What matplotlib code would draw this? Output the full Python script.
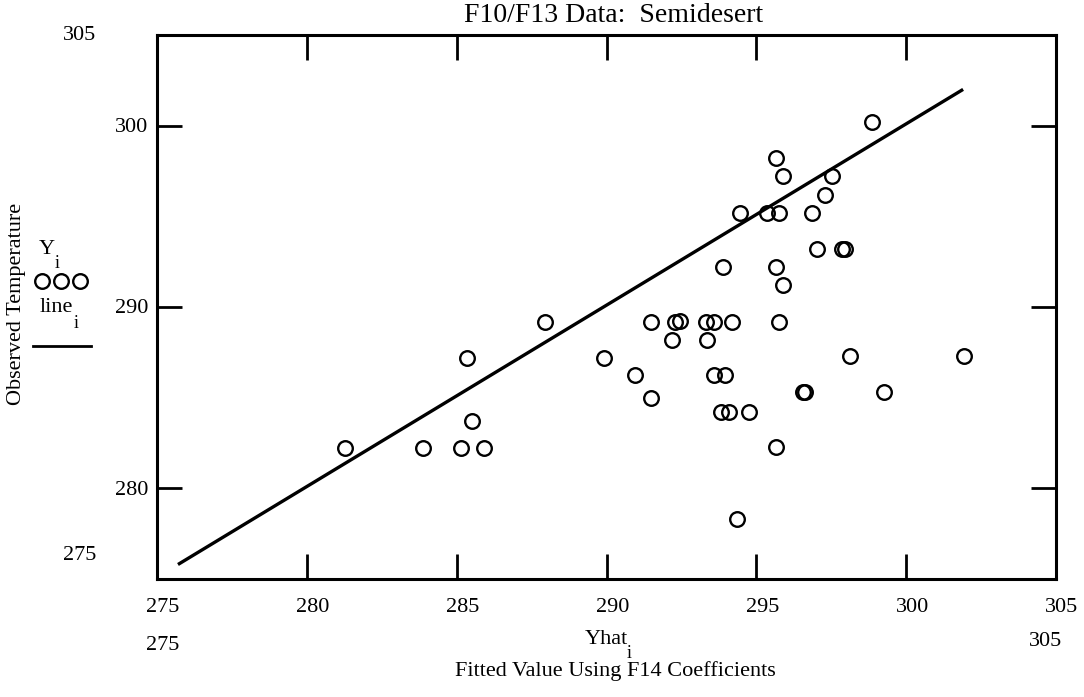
import matplotlib
matplotlib.use("Agg")
import matplotlib.pyplot as plt
import matplotlib.transforms as mtransforms

# ---------------------------------------------------------------------------
# Data
# ---------------------------------------------------------------------------
yhat = [281.27, 283.88, 285.13, 285.90, 285.52, 285.36, 287.96, 289.91,
        290.96, 291.49, 291.49, 292.20, 292.30, 292.45, 293.32, 293.60,
        293.36, 294.19, 293.58, 293.97, 293.82, 294.10, 294.77, 294.34,
        293.88, 294.47, 295.34, 298.86, 295.66, 295.88, 297.52, 297.30,
        295.77, 296.86, 297.01, 297.85, 297.95, 295.66, 295.88, 295.74,
        298.13, 301.93, 296.55, 296.62, 299.27, 295.66]
y_obs = [282.2, 282.2, 282.2, 282.2, 283.7, 287.2, 289.2, 287.2,
         286.25, 285.0, 289.2, 288.2, 289.2, 289.25, 289.2, 289.2,
         288.2, 289.2, 286.25, 286.25, 284.2, 284.2, 284.2, 278.3,
         292.2, 295.2, 295.2, 300.2, 298.2, 297.2, 297.2, 296.2,
         295.2, 295.2, 293.2, 293.2, 293.2, 292.2, 291.2, 289.2,
         287.3, 287.3, 285.3, 285.3, 285.3, 282.3]

line_x = [275.7, 301.9]
line_y = [275.8, 302.0]

x_ticks = [280, 285, 290, 295, 300]
y_ticks = [280, 290, 300]
x_lim = (275, 305)
y_lim = (275, 305)

W, H = 1084, 697
SERIF = "Liberation Serif"
FS = 16
SUB = 13

fig = plt.figure(figsize=(W / 100, H / 100), dpi=100, facecolor="white")
ax = fig.add_axes([157 / W, 1 - 579 / H, (1056 - 157) / W, (579 - 35) / H])


def fx(px):
    return px / W


def fy(py):
    return 1 - py / H


ax.plot(line_x, line_y, color="black", lw=2.4, solid_capstyle="butt", zorder=2)
ax.plot(yhat, y_obs, linestyle="none", marker="o", markersize=10.5,
        markerfacecolor="none", markeredgecolor="black", markeredgewidth=1.7,
        zorder=3)

ax.set_xlim(*x_lim)
ax.set_ylim(*y_lim)
ax.set_xticks(x_ticks)
ax.set_yticks(y_ticks)
ax.tick_params(direction="in", length=18, width=2, top=True, right=True,
               labelbottom=False, labelleft=False)
for sp in ax.spines.values():
    sp.set_linewidth(2.2)

# x tick labels (Mathcad style: slightly right of tick, plus limit rows)
off = mtransforms.ScaledTranslation(6 / 100, 0, fig.dpi_scale_trans)
tx = mtransforms.blended_transform_factory(ax.transData, fig.transFigure) + off
for v in [x_lim[0]] + x_ticks + [x_lim[1]]:
    ax.text(v, fy(608), str(v), transform=tx, ha="center", va="center",
            fontsize=FS, family=SERIF, clip_on=False)
ax.text(x_lim[0], fy(645), str(x_lim[0]), transform=tx, ha="center",
        va="center", fontsize=FS, family=SERIF, clip_on=False)
ax.text(x_lim[1], fy(641), str(x_lim[1]), transform=tx, ha="right",
        va="center", fontsize=FS, family=SERIF, clip_on=False)

# y tick labels
ty = mtransforms.blended_transform_factory(fig.transFigure, ax.transData)
for v in y_ticks:
    ax.text(fx(148), v - 0.1, str(v), transform=ty, ha="right", va="center",
            fontsize=FS, family=SERIF, clip_on=False)
fig.text(fx(80), fy(35), str(y_lim[1]), ha="center", va="center",
         fontsize=FS, family=SERIF)
fig.text(fx(80), fy(555), str(y_lim[0]), ha="center", va="center",
         fontsize=FS, family=SERIF)

# titles / axis labels
fig.text(fx(614), fy(15), "F10/F13 Data:  Semidesert", ha="center",
         va="center", fontsize=20, family=SERIF)
fig.text(fx(606), fy(640), "Yhat", ha="center", va="center",
         fontsize=FS, family=SERIF)
fig.text(fx(629), fy(653), "i", ha="center", va="center",
         fontsize=SUB, family=SERIF)
fig.text(fx(615), fy(671), "Fitted Value Using F14 Coefficients",
         ha="center", va="center", fontsize=FS, family=SERIF)
fig.text(fx(17), fy(304), "Observed Temperature", ha="center", va="center",
         rotation=90, fontsize=FS, family=SERIF)

# legend stack on the left
fig.text(fx(47), fy(250), "Y", ha="center", va="center", fontsize=FS,
         family=SERIF)
fig.text(fx(57), fy(263), "i", ha="center", va="center", fontsize=SUB,
         family=SERIF)
for cx in (42, 61, 80):
    fig.add_artist(plt.Line2D([fx(cx)], [fy(281)], marker="o",
                              markersize=10.5, markerfacecolor="none",
                              markeredgecolor="black", markeredgewidth=1.7,
                              linestyle="none"))
fig.text(fx(56), fy(307), "line", ha="center", va="center", fontsize=FS,
         family=SERIF)
fig.text(fx(76), fy(323), "i", ha="center", va="center", fontsize=SUB,
         family=SERIF)
fig.add_artist(plt.Line2D([fx(33), fx(91)], [fy(346), fy(346)],
                          color="black", lw=2.0))

fig.savefig("out.png", dpi=100, facecolor="white")
